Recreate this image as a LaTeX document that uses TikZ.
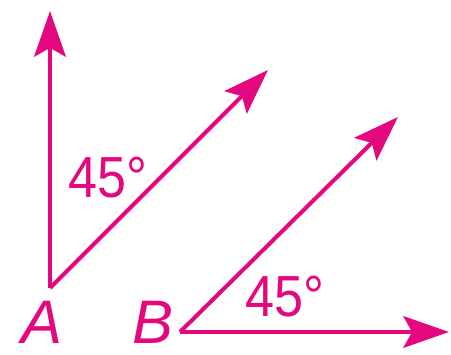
\documentclass[tikz,border=0pt]{standalone}
\usepackage{fontspec}
\setmainfont{Liberation Sans}
\newfontfamily\anglefont[FakeStretch=0.9]{Liberation Sans}
\usepackage{tikz}
\usetikzlibrary{arrows.meta}
\definecolor{raymag}{HTML}{E4087F}

\begin{document}
\begin{tikzpicture}[x=0.02cm, y=0.02cm,
    ray/.style={raymag, line width=2.3pt, -{Stealth[length=26pt, width=18pt, inset=5pt]}},
    lbl/.style={raymag, font=\anglefont\fontsize{33}{36}\selectfont, inner sep=0pt},
    vlbl/.style={raymag, font=\fontsize{35}{40}\selectfont\itshape, inner sep=0pt}]
        \useasboundingbox (0,0) rectangle (451,355);
        % Angle at A
        \coordinate (A) at (50,67);
        \coordinate (Aup) at (50,344);
        \coordinate (Adiag) at (268,285);
        \draw[ray] (A) -- (Aup);
        \draw[ray] (A) -- (Adiag);
        \node[lbl] (angA) at (108,177) {45°};
        \node[vlbl] (labA) at (42,33) {A};
        % Angle at B
        \coordinate (B) at (180,23);
        \coordinate (Bdiag) at (398,238);
        \coordinate (Bright) at (449,23);
        \draw[ray] (B) -- (Bdiag);
        \draw[ray] (B) -- (Bright);
        \node[lbl] (angB) at (285,58) {45°};
        \node[vlbl] (labB) at (153,33) {B};
    \end{tikzpicture}
\end{document}
